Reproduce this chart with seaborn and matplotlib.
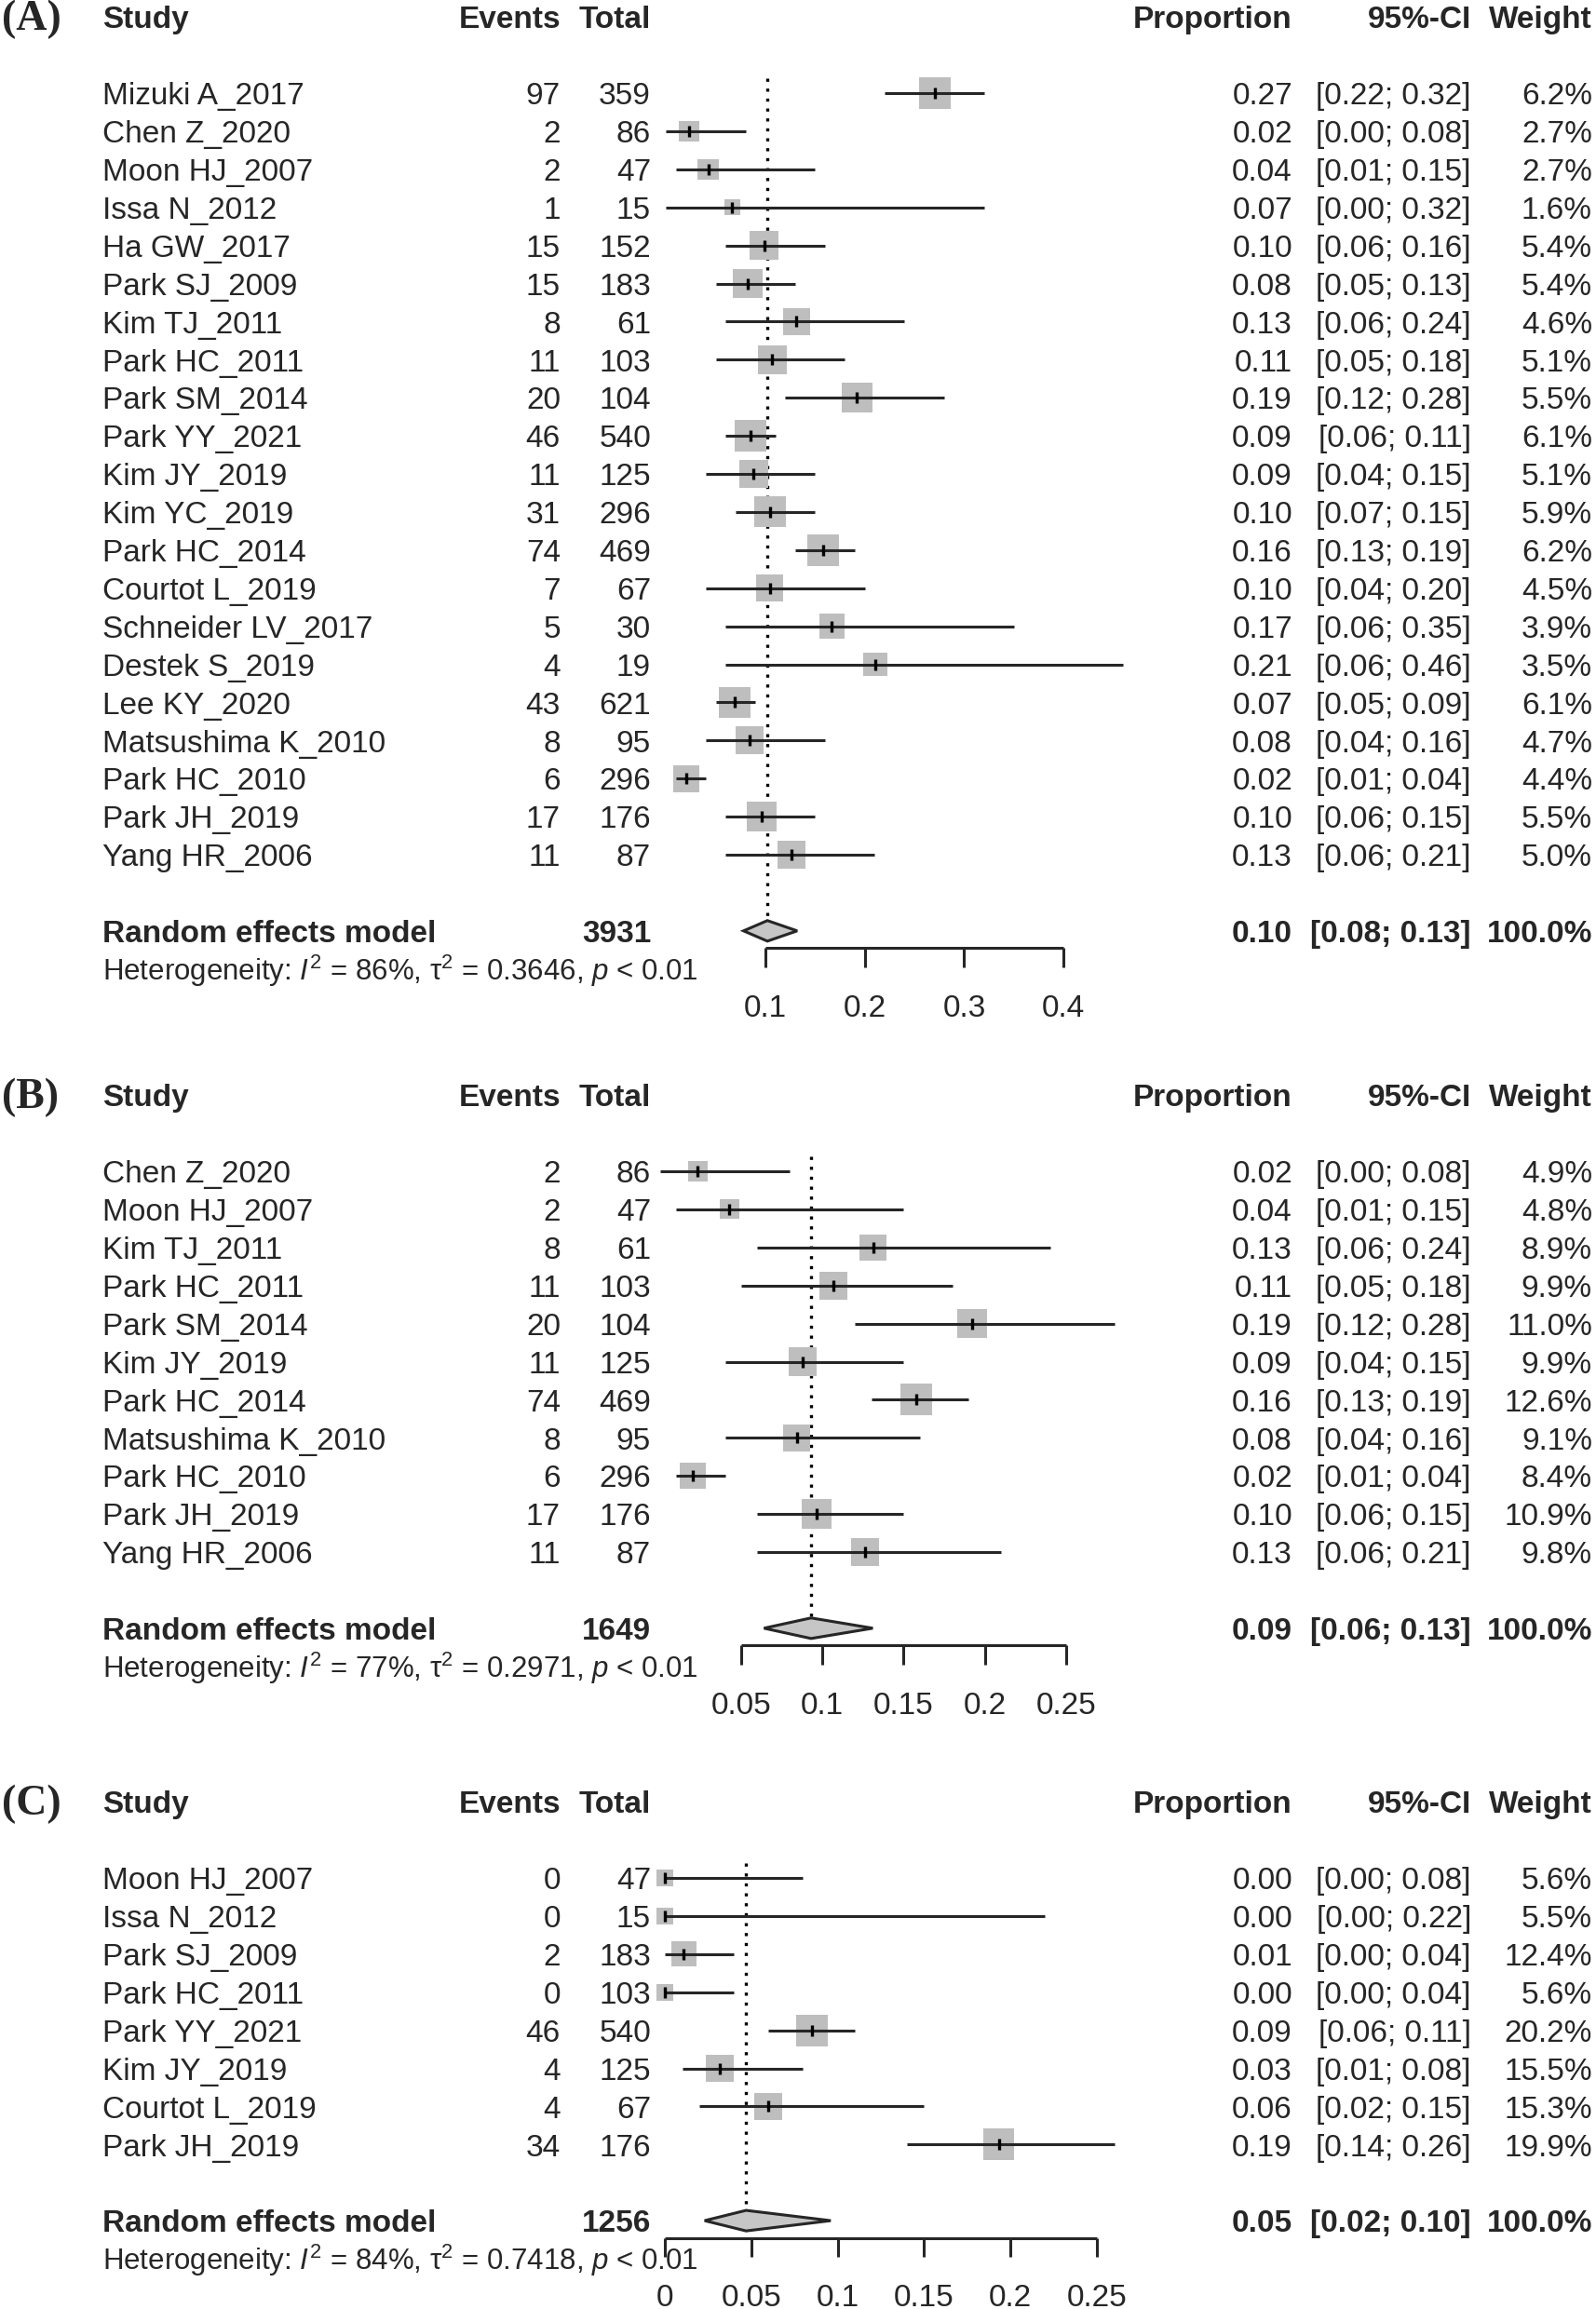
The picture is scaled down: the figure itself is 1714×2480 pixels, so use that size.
import numpy as np
import pandas as pd
import matplotlib
matplotlib.use("Agg")
import matplotlib.pyplot as plt
import seaborn as sns
from matplotlib.transforms import blended_transform_factory

# ---------------- data ----------------
# Panel A
a_study = ["Mizuki A_2017", "Chen Z_2020", "Moon HJ_2007", "Issa N_2012", "Ha GW_2017",
           "Park SJ_2009", "Kim TJ_2011", "Park HC_2011", "Park SM_2014", "Park YY_2021",
           "Kim JY_2019", "Kim YC_2019", "Park HC_2014", "Courtot L_2019", "Schneider LV_2017",
           "Destek S_2019", "Lee KY_2020", "Matsushima K_2010", "Park HC_2010", "Park JH_2019",
           "Yang HR_2006"]
a_events = [97, 2, 2, 1, 15, 15, 8, 11, 20, 46, 11, 31, 74, 7, 5, 4, 43, 8, 6, 17, 11]
a_total = [359, 86, 47, 15, 152, 183, 61, 103, 104, 540, 125, 296, 469, 67, 30, 19, 621, 95, 296, 176, 87]
a_lower = [0.22, 0.00, 0.01, 0.00, 0.06, 0.05, 0.06, 0.05, 0.12, 0.06, 0.04, 0.07, 0.13, 0.04, 0.06,
           0.06, 0.05, 0.04, 0.01, 0.06, 0.06]
a_upper = [0.32, 0.08, 0.15, 0.32, 0.16, 0.13, 0.24, 0.18, 0.28, 0.11, 0.15, 0.15, 0.19, 0.20, 0.35,
           0.46, 0.09, 0.16, 0.04, 0.15, 0.21]
a_weight = [6.2, 2.7, 2.7, 1.6, 5.4, 5.4, 4.6, 5.1, 5.5, 6.1, 5.1, 5.9, 6.2, 4.5, 3.9, 3.5, 6.1, 4.7,
            4.4, 5.5, 5.0]
a_pooled = [0.102, 0.078, 0.132]
a_pooled_text = ["3931", "0.10", "[0.08; 0.13]", "100.0%"]
a_het = ["86%", "0.3646", "0.01"]
a_ticks = [0.1, 0.2, 0.3, 0.4]
a_tick_labels = ["0.1", "0.2", "0.3", "0.4"]

# Panel B
b_study = ["Chen Z_2020", "Moon HJ_2007", "Kim TJ_2011", "Park HC_2011", "Park SM_2014",
           "Kim JY_2019", "Park HC_2014", "Matsushima K_2010", "Park HC_2010", "Park JH_2019",
           "Yang HR_2006"]
b_events = [2, 2, 8, 11, 20, 11, 74, 8, 6, 17, 11]
b_total = [86, 47, 61, 103, 104, 125, 469, 95, 296, 176, 87]
b_lower = [0.00, 0.01, 0.06, 0.05, 0.12, 0.04, 0.13, 0.04, 0.01, 0.06, 0.06]
b_upper = [0.08, 0.15, 0.24, 0.18, 0.28, 0.15, 0.19, 0.16, 0.04, 0.15, 0.21]
b_weight = [4.9, 4.8, 8.9, 9.9, 11.0, 9.9, 12.6, 9.1, 8.4, 10.9, 9.8]
b_pooled = [0.093, 0.064, 0.131]
b_pooled_text = ["1649", "0.09", "[0.06; 0.13]", "100.0%"]
b_het = ["77%", "0.2971", "0.01"]
b_ticks = [0.05, 0.1, 0.15, 0.2, 0.25]
b_tick_labels = ["0.05", "0.1", "0.15", "0.2", "0.25"]

# Panel C
c_study = ["Moon HJ_2007", "Issa N_2012", "Park SJ_2009", "Park HC_2011", "Park YY_2021",
           "Kim JY_2019", "Courtot L_2019", "Park JH_2019"]
c_events = [0, 0, 2, 0, 46, 4, 4, 34]
c_total = [47, 15, 183, 103, 540, 125, 67, 176]
c_lower = [0.00, 0.00, 0.00, 0.00, 0.06, 0.01, 0.02, 0.14]
c_upper = [0.08, 0.22, 0.04, 0.04, 0.11, 0.08, 0.15, 0.26]
c_weight = [5.6, 5.5, 12.4, 5.6, 20.2, 15.5, 15.3, 19.9]
c_pooled = [0.047, 0.023, 0.096]
c_pooled_text = ["1256", "0.05", "[0.02; 0.10]", "100.0%"]
c_het = ["84%", "0.7418", "0.01"]
c_ticks = [0, 0.05, 0.1, 0.15, 0.2, 0.25]
c_tick_labels = ["0", "0.05", "0.1", "0.15", "0.2", "0.25"]

# ---------------- style / layout ----------------
sns.set_style("white")
plt.rcParams["font.family"] = ["Liberation Sans", "DejaVu Sans"]
plt.rcParams["mathtext.fontset"] = "custom"
plt.rcParams["mathtext.rm"] = "Liberation Sans"
plt.rcParams["mathtext.it"] = "Liberation Sans:italic"
plt.rcParams["mathtext.bf"] = "Liberation Sans:bold"

W, H = 1715, 2480
RH = 40.9          # row height in pixels
FS = 24
LINE = "#262626"
SQUARE = "#bebebe"
LW = 2.2
COLS = dict(study=110, events=602, total=699, prop=1388, ci=1580, weight=1710)
BASE = 0.30        # baseline offset (rows) to centre caps on the row

fig = plt.figure(figsize=(W / 100, H / 100), dpi=100)
fig.patch.set_facecolor("white")


def make_axes(row0_px, p0_px, x0, scale):
    ax = fig.add_axes([0, 0, 1, 1])
    ax.axis("off")
    ax.patch.set_alpha(0)
    lims = (x0 + (0 - p0_px) / scale, x0 + (W - p0_px) / scale,
            (H - row0_px) / RH, (0 - row0_px) / RH)
    return ax, lims


def draw_panel(ax, lims, label, study, events, total, lower, upper, weight,
               pooled, pooled_text, het, ticks, tick_labels):
    n = len(study)
    rows = np.arange(n)
    prop = np.array(events) / np.array(total)
    df = pd.DataFrame(dict(prop=prop, row=rows, w=weight))
    tr = blended_transform_factory(fig.transFigure, ax.transData)

    # squares (area proportional to weight)
    sns.scatterplot(data=df, x="prop", y="row", size="w", sizes=(0, 600),
                    size_norm=(0, max(weight)), marker="s", color=SQUARE,
                    edgecolor="none", linewidth=0, legend=False, ax=ax, zorder=2)
    # CI lines
    ax.hlines(rows, lower, upper, color=LINE, lw=LW, zorder=3)
    # point estimate tick
    sns.scatterplot(data=df, x="prop", y="row", marker="|", s=75, color="black",
                    linewidth=2.4, legend=False, ax=ax, zorder=4)

    re_row = n + 1
    est, lo, hi = pooled
    # reference dotted line
    ax.vlines(est, -0.4, re_row - 0.27, colors="black", linestyles=(0, (1, 2.2)), lw=2.4, zorder=1)
    # diamond
    ax.fill([lo, est, hi, est], [re_row, re_row - 0.27, re_row, re_row + 0.27],
            facecolor="#c6c6c6", edgecolor=LINE, lw=LW, zorder=3)
    # x axis
    ya = re_row + 0.45
    ax.hlines(ya, ticks[0], ticks[-1], color=LINE, lw=LW)
    ax.vlines(ticks, ya, ya + 0.5, color=LINE, lw=LW)
    for t, tl in zip(ticks, tick_labels):
        ax.text(t, re_row + 1.95 + BASE, tl, ha="center", va="baseline", fontsize=FS)

    # header
    hy = -2 + BASE
    ax.text(2 / W, hy + 0.05, label, transform=tr, fontsize=33, fontweight="bold",
            family=["Liberation Serif", "DejaVu Serif"], va="baseline", ha="left")
    ax.text(COLS["study"] / W, hy, "Study", transform=tr, fontsize=FS, fontweight="bold", va="baseline")
    for key, txt in [("events", "Events"), ("total", "Total"), ("prop", "Proportion"),
                     ("ci", "95%-CI"), ("weight", "Weight")]:
        ax.text(COLS[key] / W, hy, txt, transform=tr, fontsize=FS, fontweight="bold",
                va="baseline", ha="right")

    # rows
    for i in range(n):
        y = i + BASE
        ax.text(COLS["study"] / W, y, study[i], transform=tr, fontsize=FS, va="baseline")
        cells = [("events", f"{events[i]}"), ("total", f"{total[i]}"),
                 ("prop", f"{prop[i]:.2f}"), ("ci", f"[{lower[i]:.2f}; {upper[i]:.2f}]"),
                 ("weight", f"{weight[i]:.1f}%")]
        for key, txt in cells:
            ax.text(COLS[key] / W, y, txt, transform=tr, fontsize=FS, va="baseline", ha="right")

    # pooled row
    y = re_row + BASE
    ax.text(COLS["study"] / W, y, "Random effects model", transform=tr, fontsize=FS,
            fontweight="bold", va="baseline")
    for key, txt in zip(["total", "prop", "ci", "weight"], pooled_text):
        ax.text(COLS[key] / W, y, txt, transform=tr, fontsize=FS, fontweight="bold",
                va="baseline", ha="right")
    het_txt = (r"Heterogeneity: $I^2$ = " + het[0] +
               r", τ${}^2$ = " + het[1] + r", $p$ < " + het[2])
    ax.text(COLS["study"] / W, re_row + 1 + BASE, het_txt, transform=tr, fontsize=22.5,
            va="baseline")

    ax.set_xlim(lims[0], lims[1])
    ax.set_ylim(lims[2], lims[3])


axA, limA = make_axes(100, 822, 0.1, 1067)
draw_panel(axA, limA, "(A)", a_study, a_events, a_total, a_lower, a_upper, a_weight,
           a_pooled, a_pooled_text, a_het, a_ticks, a_tick_labels)

axB, limB = make_axes(1258, 796, 0.05, 1745)
draw_panel(axB, limB, "(B)", b_study, b_events, b_total, b_lower, b_upper, b_weight,
           b_pooled, b_pooled_text, b_het, b_ticks, b_tick_labels)

axC, limC = make_axes(2017, 714, 0.0, 1856)
draw_panel(axC, limC, "(C)", c_study, c_events, c_total, c_lower, c_upper, c_weight,
           c_pooled, c_pooled_text, c_het, c_ticks, c_tick_labels)

fig.savefig("out.png", dpi=100, facecolor="white")
